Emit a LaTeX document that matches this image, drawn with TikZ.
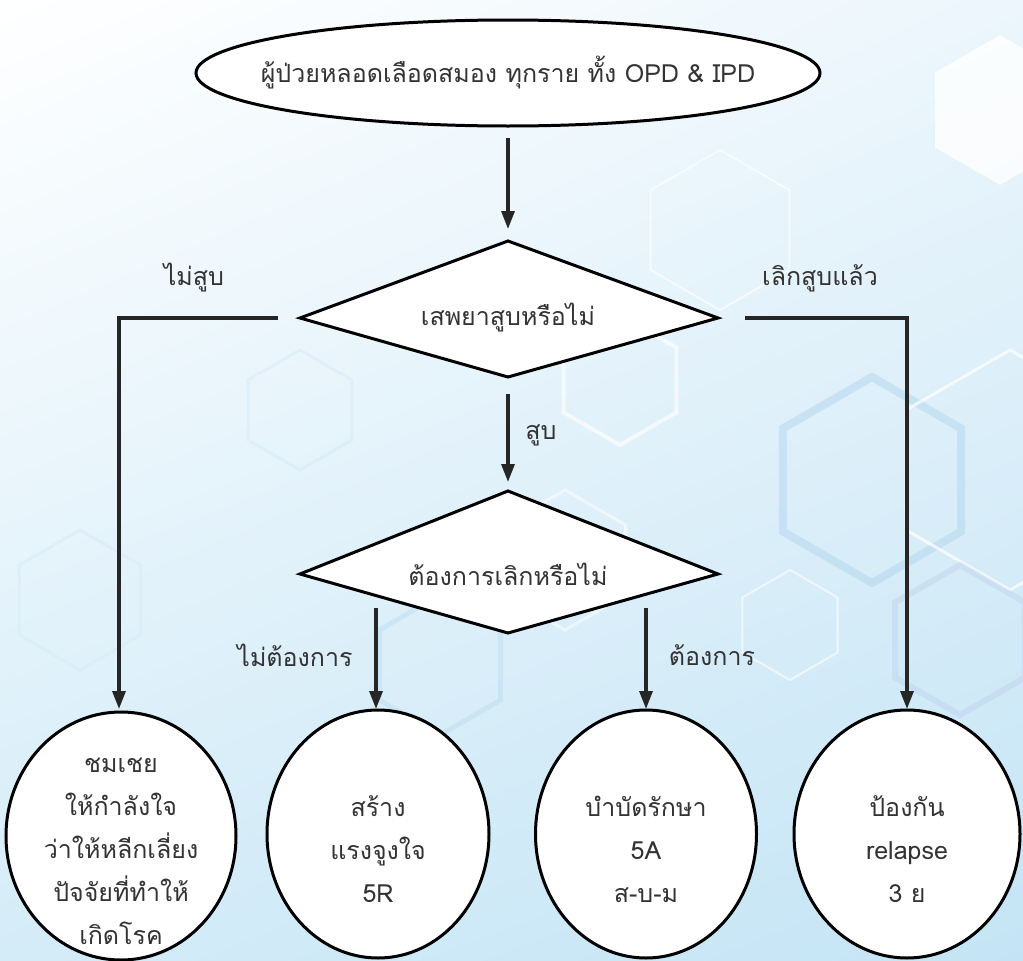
\documentclass[tikz,border=0pt]{standalone}
\usepackage{fontspec}
\newfontfamily\thaifont[Script=Thai]{Loma}
\usetikzlibrary{shapes.geometric,arrows.meta,shadings}
\definecolor{bgur}{RGB}{236,246,252}
\definecolor{bgll}{RGB}{212,236,248}
\definecolor{bglr}{RGB}{196,228,245}
\definecolor{hexblue}{RGB}{178,214,238}
\definecolor{hexpale}{RGB}{215,235,248}
\definecolor{hexviolet}{RGB}{190,205,235}
\tikzset{
  box/.style={draw=black,line width=3pt,fill=white},
  conn/.style={line width=3.2pt,draw=black!85},
  arr/.style={conn,-{Triangle[length=18pt,width=13pt]}},
  lbl/.style={font=\thaifont\fontsize{25}{43}\selectfont,text=black!80,inner sep=0pt},
}
\newcommand{\hexg}[4]{\path[#4] (#1,#2) +(90:#3) -- +(150:#3) -- +(210:#3) -- +(270:#3) -- +(330:#3) -- +(30:#3) -- cycle;}
\begin{document}
\begin{tikzpicture}[x=1pt,y=-1pt]
\useasboundingbox (0,0) rectangle (1023,961);
% background
\shade[upper left=white,upper right=bgur,lower left=bgll,lower right=bglr]
  (0,0) rectangle (1023,961);
% decorative hexagons
\hexg{1000}{110}{75}{fill=white,opacity=0.8}
\hexg{872}{480}{103}{line width=8pt,draw=hexblue,opacity=0.5}
\hexg{1010}{470}{120}{line width=3pt,draw=white,opacity=0.7}
\hexg{960}{640}{75}{line width=6pt,draw=hexviolet,opacity=0.4}
\hexg{790}{625}{55}{line width=2pt,draw=white,opacity=0.6}
\hexg{440}{665}{70}{line width=5pt,draw=hexblue,opacity=0.35}
\hexg{620}{380}{65}{line width=4pt,draw=white,opacity=0.6}
\hexg{300}{410}{60}{line width=3pt,draw=hexpale,opacity=0.5}
\hexg{720}{230}{80}{line width=2pt,draw=white,opacity=0.6}
\hexg{565}{560}{70}{line width=3pt,draw=white,opacity=0.5}
\hexg{80}{600}{70}{line width=3pt,draw=hexpale,opacity=0.5}

% top ellipse
\node[box,ellipse,minimum width=624pt,minimum height=106pt,inner sep=0pt] (start) at (508,73) {};
\node[lbl] (startt) at (508,73) {ผู้ป่วยหลอดเลือดสมอง ทุกราย ทั้ง OPD \& IPD};

% diamond 1
\coordinate (d1t) at (508,241);
\coordinate (d1l) at (300,318);
\coordinate (d1r) at (718,318);
\coordinate (d1b) at (508,377);
\draw[box,line join=miter] (d1t) -- (d1r) -- (d1b) -- (d1l) -- cycle;
\node[lbl] (d1) at (508,318) {เสพยาสูบหรือไม่};

% diamond 2
\coordinate (d2t) at (508,491);
\coordinate (d2l) at (300,574);
\coordinate (d2r) at (718,574);
\coordinate (d2b) at (508,633);
\draw[box,line join=miter] (d2t) -- (d2r) -- (d2b) -- (d2l) -- cycle;
\node[lbl] (d2) at (508,574) {ต้องการเลิกหรือไม่};

% bottom ellipses
\node[box,ellipse,minimum width=230pt,minimum height=248pt,inner sep=0pt] (e1) at (121,836) {};
\node[box,ellipse,minimum width=222pt,minimum height=248pt,inner sep=0pt] (e2) at (378,834) {};
\node[box,ellipse,minimum width=221pt,minimum height=248pt,inner sep=0pt] (e3) at (646,834) {};
\node[box,ellipse,minimum width=226pt,minimum height=248pt,inner sep=0pt] (e4) at (907,834) {};
\node[lbl,align=center] (e1t) at (121,851) {ชมเชย\\ให้กำลังใจ\\ว่าให้หลีกเลี่ยง\\ปัจจัยที่ทำให้\\เกิดโรค};
\node[lbl,align=center] (e2t) at (378,849) {สร้าง\\แรงจูงใจ\\5R};
\node[lbl,align=center] (e3t) at (646,849) {บำบัดรักษา\\5A\\ส-บ-ม};
\node[lbl,align=center] (e4t) at (907,849) {ป้องกัน\\relapse\\3 ย};

% connectors
\coordinate (a1s) at (508,138);
\coordinate (a1e) at (508,229);
\draw[arr] (a1s) -- (a1e);

\coordinate (ls) at (278,318);
\coordinate (lc) at (119,318);
\coordinate (le) at (119,709);
\draw[arr] (ls) -- (lc) -- (le);
\coordinate (rs) at (745,318);
\coordinate (rc) at (907,318);
\coordinate (re) at (907,709);
\draw[arr] (rs) -- (rc) -- (re);

\coordinate (ms) at (508,394);
\coordinate (me) at (508,482);
\draw[arr] (ms) -- (me);

\coordinate (bls) at (376,608);
\coordinate (ble) at (376,709);
\draw[arr] (bls) -- (ble);
\coordinate (brs) at (646,608);
\coordinate (bre) at (646,709);
\draw[arr] (brs) -- (bre);

% labels
\node[lbl] (l1) at (194,278) {ไม่สูบ};
\node[lbl] (l2) at (820,278) {เลิกสูบแล้ว};
\node[lbl] (l3) at (541,435) {สูบ};
\node[lbl] (l4) at (295,655) {ไม่ต้องการ};
\node[lbl] (l5) at (712,655) {ต้องการ};
\end{tikzpicture}
\end{document}
